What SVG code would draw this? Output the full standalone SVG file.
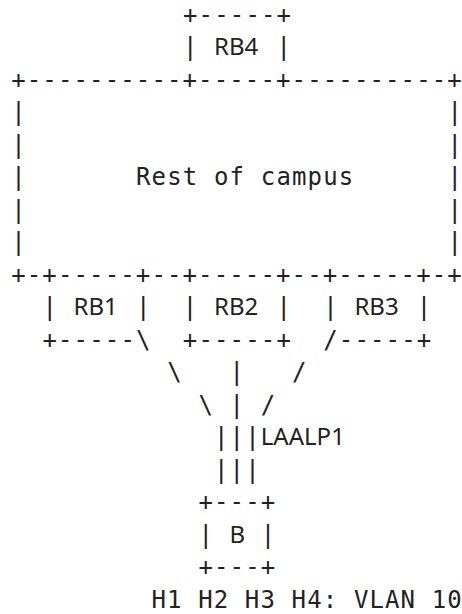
<svg xmlns="http://www.w3.org/2000/svg" width="462" height="614" viewBox="0 0 462 614">
<style>
.m{font-family:"DejaVu Sans Mono",monospace;font-size:24px;fill:#222}
.s{font-family:"Noto Sans","Liberation Sans",sans-serif;font-size:24px;fill:#222}
</style>
<rect width="462" height="614" fill="#fff"/>
<g id="RB4">
<text class="m" x="183" y="22.8" textLength="108.05" lengthAdjust="spacing">+-----+</text>
<text class="m" x="183" y="55.3">|</text>
<text class="s" x="214" y="55.3">RB4</text>
<text class="m" x="276.6" y="55.3">|</text>
</g>
<g id="campus">
<text class="m" x="11.2" y="87.8" textLength="450.6" lengthAdjust="spacing">+----------+-----+----------+</text>
<text class="m" x="11.2" y="120.3">|</text><text class="m" x="447.5" y="120.3">|</text>
<text class="m" x="11.2" y="152.8">|</text><text class="m" x="447.5" y="152.8">|</text>
<text class="m" x="11.2" y="185.3">|</text><text class="m" x="136" y="185.3" textLength="217.25" lengthAdjust="spacing">Rest of campus</text><text class="m" x="447.5" y="185.3">|</text>
<text class="m" x="11.2" y="217.8">|</text><text class="m" x="447.5" y="217.8">|</text>
<text class="m" x="11.2" y="250.3">|</text><text class="m" x="447.5" y="250.3">|</text>
<text class="m" x="11.2" y="282.8" textLength="450.6" lengthAdjust="spacing">+-+-----+--+-----+--+-----+-+</text>
</g>
<g id="RB1">
<text class="m" x="42.4" y="315.3">|</text>
<text class="s" x="73.6" y="315.3">RB1</text>
<text class="m" x="136" y="315.3">|</text>
<text class="m" x="42.4" y="347.8" textLength="92.45" lengthAdjust="spacing">+-----</text>
</g>
<g id="RB2">
<text class="m" x="182.8" y="315.3">|</text>
<text class="s" x="214" y="315.3">RB2</text>
<text class="m" x="276.4" y="315.3">|</text>
<text class="m" x="182.8" y="347.8" textLength="108.05" lengthAdjust="spacing">+-----+</text>
</g>
<g id="RB3">
<text class="m" x="323.2" y="315.3">|</text>
<text class="s" x="354.4" y="315.3">RB3</text>
<text class="m" x="416.8" y="315.3">|</text>
<text class="m" x="338.8" y="347.8" textLength="92.45" lengthAdjust="spacing">-----+</text>
</g>
<g id="connectors">
<text class="m" x="136" y="347.8">\</text>
<text class="m" x="323.2" y="347.8">/</text>
<text class="m" x="167.2" y="380.3">\</text>
<text class="m" x="229.6" y="380.3">|</text>
<text class="m" x="292" y="380.3">/</text>
<text class="m" x="198.4" y="412.8">\</text>
<text class="m" x="229.6" y="412.8">|</text>
<text class="m" x="260.8" y="412.8">/</text>
<text class="m" x="214" y="445.3" textLength="45.65" lengthAdjust="spacing">|||</text>
<text class="m" x="214" y="477.8" textLength="45.65" lengthAdjust="spacing">|||</text>
</g>
<g id="LAALP1">
<text class="s" x="260.8" y="445.3">LAALP1</text>
</g>
<g id="B">
<text class="m" x="198.4" y="510.3" textLength="76.85" lengthAdjust="spacing">+---+</text>
<text class="m" x="198.4" y="542.8">|</text>
<text class="s" x="229.6" y="542.8">B</text>
<text class="m" x="260.8" y="542.8">|</text>
<text class="m" x="198.4" y="575.3" textLength="76.85" lengthAdjust="spacing">+---+</text>
</g>
<g id="hosts">
<text class="m" x="151.4" y="607.8" textLength="310.4" lengthAdjust="spacing">H1 H2 H3 H4: VLAN 10</text>
</g>
</svg>
